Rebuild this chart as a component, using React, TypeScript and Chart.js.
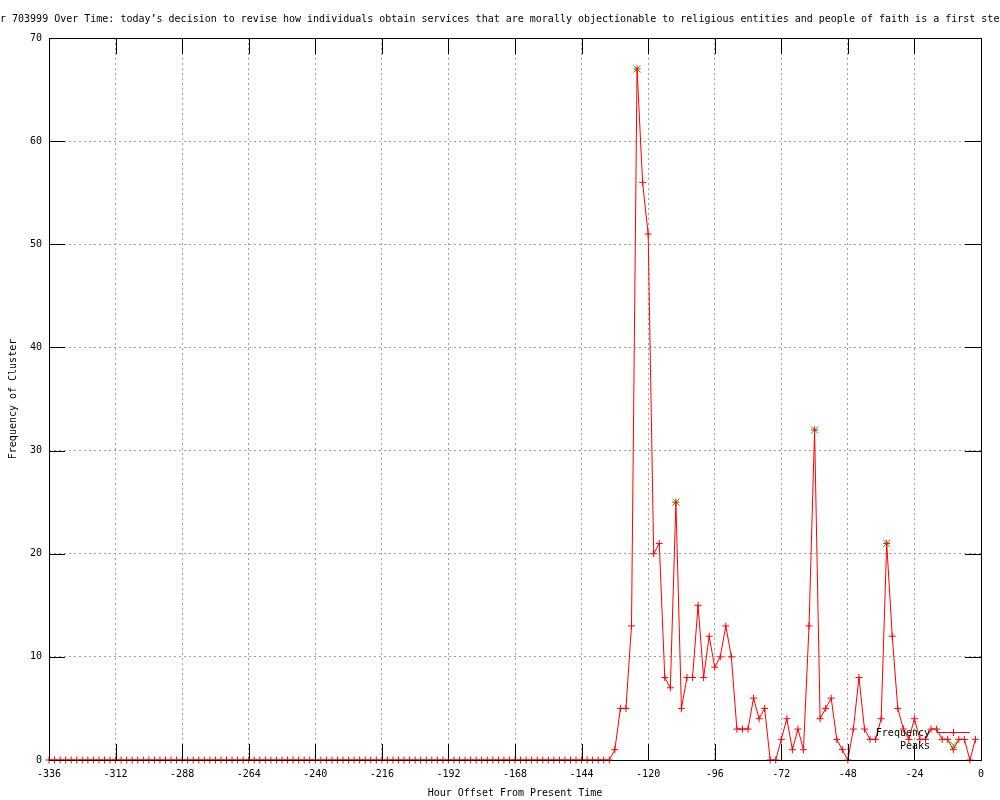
import React, { useEffect, useRef } from "react";
import { Chart, registerables } from "chart.js";

Chart.register(...registerables);

// ---------- data ----------
const hours: number[] = [
  -336, -334, -332, -330, -328, -326, -324, -322, -320, -318, -316, -314,
  -312, -310, -308, -306, -304, -302, -300, -298, -296, -294, -292, -290,
  -288, -286, -284, -282, -280, -278, -276, -274, -272, -270, -268, -266,
  -264, -262, -260, -258, -256, -254, -252, -250, -248, -246, -244, -242,
  -240, -238, -236, -234, -232, -230, -228, -226, -224, -222, -220, -218,
  -216, -214, -212, -210, -208, -206, -204, -202, -200, -198, -196, -194,
  -192, -190, -188, -186, -184, -182, -180, -178, -176, -174, -172, -170,
  -168, -166, -164, -162, -160, -158, -156, -154, -152, -150, -148, -146,
  -144, -142, -140, -138, -136, -134, -132, -130, -128, -126, -124, -122,
  -120, -118, -116, -114, -112, -110, -108, -106, -104, -102, -100, -98,
  -96, -94, -92, -90, -88, -86, -84, -82, -80, -78, -76, -74,
  -72, -70, -68, -66, -64, -62, -60, -58, -56, -54, -52, -50,
  -48, -46, -44, -42, -40, -38, -36, -34, -32, -30, -28, -26,
  -24, -22, -20, -18, -16, -14, -12, -10, -8, -6, -4, -2,
];

const frequency: number[] = [
  0, 0, 0, 0, 0, 0, 0, 0, 0, 0, 0, 0,
  0, 0, 0, 0, 0, 0, 0, 0, 0, 0, 0, 0,
  0, 0, 0, 0, 0, 0, 0, 0, 0, 0, 0, 0,
  0, 0, 0, 0, 0, 0, 0, 0, 0, 0, 0, 0,
  0, 0, 0, 0, 0, 0, 0, 0, 0, 0, 0, 0,
  0, 0, 0, 0, 0, 0, 0, 0, 0, 0, 0, 0,
  0, 0, 0, 0, 0, 0, 0, 0, 0, 0, 0, 0,
  0, 0, 0, 0, 0, 0, 0, 0, 0, 0, 0, 0,
  0, 0, 0, 0, 0, 0, 1, 5, 5, 13, 67, 56,
  51, 20, 21, 8, 7, 25, 5, 8, 8, 15, 8, 12,
  9, 10, 13, 10, 3, 3, 3, 6, 4, 5, 0, 0,
  2, 4, 1, 3, 1, 13, 32, 4, 5, 6, 2, 1,
  0, 3, 8, 3, 2, 2, 4, 21, 12, 5, 3, 2,
  4, 2, 2, 3, 3, 2, 2, 1, 2, 2, 0, 2,
];

const peakHours: number[] = [-124, -110, -60, -34];
const peakValues: number[] = [67, 25, 32, 21];

const xTickLabels: number[] = [-336, -312, -288, -264, -240, -216, -192, -168, -144, -120, -96, -72, -48, -24, 0];
const yTickLabels: number[] = [0, 10, 20, 30, 40, 50, 60, 70];

const titleText =
  "Cluster 703999 Over Time: today\u2019s decision to revise how individuals obtain services that are morally objectionable to religious entities and people of faith is a first step";
const hiddenTitlePrefix = "Cluste";
const xAxisTitle = "Hour Offset From Present Time";
const yAxisTitle = "Frequency of Cluster";
const seriesName = "Frequency";
const peaksName = "Peaks";

const FONT_FAMILY = "'DejaVu Sans Mono', 'Liberation Mono', monospace";
const FONT = `10px ${FONT_FAMILY}`;
const RED = "#ff0000";
const GREEN = "#00c000";
const GRID = "#a0a0a0";

function drawPlus(ctx: CanvasRenderingContext2D, x: number, y: number, r: number) {
  ctx.beginPath();
  ctx.moveTo(x - r, y);
  ctx.lineTo(x + r, y);
  ctx.moveTo(x, y - r);
  ctx.lineTo(x, y + r);
  ctx.stroke();
}
function drawX(ctx: CanvasRenderingContext2D, x: number, y: number, r: number) {
  ctx.beginPath();
  ctx.moveTo(x - r, y - r);
  ctx.lineTo(x + r, y + r);
  ctx.moveTo(x - r, y + r);
  ctx.lineTo(x + r, y - r);
  ctx.stroke();
}

const decorPlugin = {
  id: "decor",
  beforeDraw(chart: any) {
    const ctx = chart.ctx as CanvasRenderingContext2D;
    ctx.save();
    ctx.fillStyle = "#ffffff";
    ctx.fillRect(0, 0, chart.width, chart.height);
    ctx.restore();
  },
  afterDraw(chart: any) {
    const ctx = chart.ctx as CanvasRenderingContext2D;
    const a = chart.chartArea;
    const xs = chart.scales.x;
    const ys = chart.scales.y;
    ctx.save();
    ctx.strokeStyle = "#000";
    ctx.lineWidth = 1;
    ctx.setLineDash([]);
    const tl = 16;
    ctx.beginPath();
    xs.ticks.forEach((t: any) => {
      const px = Math.round(xs.getPixelForValue(t.value)) + 0.5;
      ctx.moveTo(px, a.bottom);
      ctx.lineTo(px, a.bottom - tl);
      ctx.moveTo(px, a.top);
      ctx.lineTo(px, a.top + tl);
    });
    ys.ticks.forEach((t: any) => {
      const py = Math.round(ys.getPixelForValue(t.value)) + 0.5;
      ctx.moveTo(a.left, py);
      ctx.lineTo(a.left + tl, py);
      ctx.moveTo(a.right, py);
      ctx.lineTo(a.right - tl, py);
    });
    ctx.stroke();
    ctx.strokeRect(a.left + 0.5, a.top + 0.5, a.right - a.left, a.bottom - a.top);

    // texts
    ctx.font = FONT;
    ctx.fillStyle = "#000";
    ctx.textBaseline = "middle";
    ctx.textAlign = "left";
    const off = ctx.measureText(hiddenTitlePrefix).width;
    ctx.fillText(titleText, -off, 19.5);

    ctx.textAlign = "center";
    ctx.fillText(xAxisTitle, (a.left + a.right) / 2, 793);

    ctx.save();
    ctx.translate(13.5, (a.top + a.bottom) / 2);
    ctx.rotate(-Math.PI / 2);
    ctx.fillText(yAxisTitle, 0, 0);
    ctx.restore();

    // legend
    ctx.textAlign = "right";
    ctx.fillText(seriesName, a.right - 51, a.bottom - 27);
    ctx.fillText(peaksName, a.right - 51, a.bottom - 14);
    ctx.strokeStyle = RED;
    ctx.beginPath();
    ctx.moveTo(a.right - 44, a.bottom - 27.5);
    ctx.lineTo(a.right - 11, a.bottom - 27.5);
    ctx.stroke();
    drawPlus(ctx, a.right - 27.5, a.bottom - 27.5, 3.5);
    ctx.strokeStyle = GREEN;
    drawX(ctx, a.right - 27.5, a.bottom - 15, 3.5);
    ctx.restore();
  },
};

export default function App() {
  const canvasRef = useRef<HTMLCanvasElement | null>(null);

  useEffect(() => {
    document.body.style.margin = "0";
    const canvas = canvasRef.current;
    if (!canvas) return;
    const chart = new Chart(canvas, {
      type: "line",
      data: {
        datasets: [
          {
            label: seriesName,
            data: hours.map((h, i) => ({ x: h, y: frequency[i] })),
            borderColor: RED,
            backgroundColor: RED,
            borderWidth: 1,
            tension: 0,
            pointStyle: "cross",
            pointRadius: 3.5,
            pointBorderColor: RED,
            pointBorderWidth: 1,
            clip: false,
            order: 0,
          } as any,
          {
            label: peaksName,
            data: peakHours.map((h, i) => ({ x: h, y: peakValues[i] })),
            showLine: false,
            borderColor: GREEN,
            backgroundColor: GREEN,
            pointStyle: "crossRot",
            pointRadius: 5,
            pointBorderColor: GREEN,
            pointBorderWidth: 1,
            clip: false,
            order: 1,
          } as any,
        ],
      },
      options: {
        animation: false,
        responsive: false,
        devicePixelRatio: 1,
        events: [],
        layout: { padding: { left: 0, right: 19, top: 38, bottom: 0 } },
        plugins: {
          legend: { display: false },
          title: { display: false },
          tooltip: { enabled: false },
        },
        scales: {
          x: {
            type: "linear",
            min: xTickLabels[0],
            max: xTickLabels[xTickLabels.length - 1],
            afterFit: (s: any) => {
              s.height = 40;
            },
            afterBuildTicks: (s: any) => {
              s.ticks = xTickLabels.map((v) => ({ value: v }));
            },
            ticks: {
              autoSkip: false,
              maxRotation: 0,
              minRotation: 0,
              color: "#000",
              padding: 8,
              font: { family: FONT_FAMILY, size: 10 },
            },
            grid: { color: GRID, lineWidth: 1, drawTicks: false },
            border: { display: false, dash: [2, 3] },
          },
          y: {
            type: "linear",
            min: yTickLabels[0],
            max: yTickLabels[yTickLabels.length - 1],
            afterFit: (s: any) => {
              s.width = 49;
            },
            afterBuildTicks: (s: any) => {
              s.ticks = yTickLabels.map((v) => ({ value: v }));
            },
            ticks: {
              autoSkip: false,
              color: "#000",
              padding: 7,
              font: { family: FONT_FAMILY, size: 10 },
            },
            grid: { color: GRID, lineWidth: 1, drawTicks: false },
            border: { display: false, dash: [2, 3] },
          },
        },
      } as any,
      plugins: [decorPlugin],
    });
    return () => chart.destroy();
  }, []);

  return (
    <div style={{ position: "absolute", left: 0, top: 0, width: 1000, height: 800 }}>
      <canvas ref={canvasRef} width={1000} height={800} style={{ display: "block" }} />
    </div>
  );
}
